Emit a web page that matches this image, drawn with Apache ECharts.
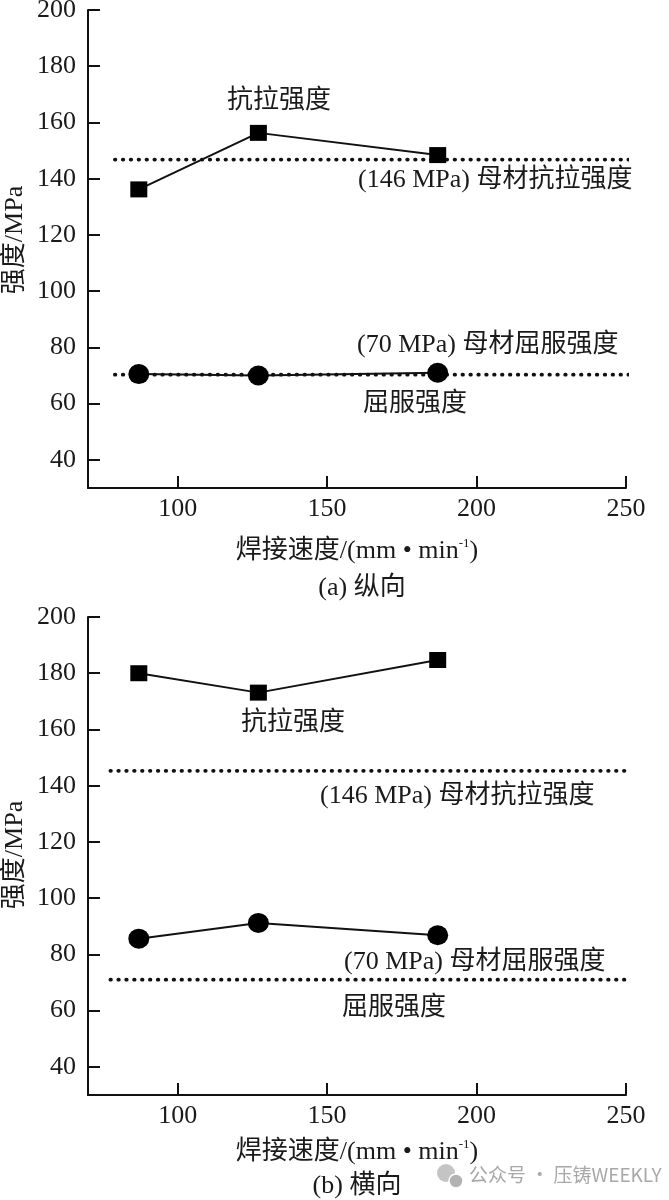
<!DOCTYPE html>
<html lang="zh">
<head>
    <meta charset="UTF-8">
    <title>焊接速度与强度</title>
    <script src="https://cdn.jsdelivr.net/npm/echarts@6/dist/echarts.min.js"></script>
    <style>
        html, body {
            width: 100%;
            height: 100%;
            margin: 0;
            padding: 0;
            background: #fff;
            overflow: hidden;
        }
        #chart {
            width: 669px;
            height: 1200px;
        }
    </style>
</head>
<body>
<div id="chart"></div>
<script>
    // Welding speed (mm/min) of the three samples
    var speeds = [87, 127, 187];

    // (a) longitudinal
    var tensileA = [136.2, 156.3, 148.4];
    var yieldA = [70.5, 70, 71];
    // (b) transverse
    var tensileB = [180, 173.1, 184.7];
    var yieldB = [85.6, 91.2, 86.8];

    // base metal reference lines and their x extent
    var baseTensile = [146.8, 145.3];
    var baseYield = [70.3, 71];
    var baseSpanA = [79, 256];
    var baseSpanB = [77.5, 260];

    var yTicks = [40, 60, 80, 100, 120, 140, 160, 180, 200];
    var xTicks = [100, 150, 200, 250];

    var serifFont = '"Liberation Serif", "Noto Sans CJK SC", serif';
    var textColor = '#1a1a1a';

    function zip(xs, ys) {
        return xs.map(function (x, i) { return [x, ys[i]]; });
    }
    function hline(span, y) {
        return [[span[0], y], [span[1], y]];
    }

    function makeX(gridIndex, gap) {
        return {
            type: 'value',
            gridIndex: gridIndex,
            min: 70,
            max: 250,
            name: '焊接速度/(mm • min{sup|-1})',
            nameLocation: 'middle',
            nameGap: gap,
            nameTextStyle: {
                fontFamily: serifFont,
                fontSize: 26,
                color: textColor,
                rich: {
                    sup: { fontSize: 13, fontFamily: serifFont, color: textColor, padding: [0, 0, 16, 0] }
                }
            },
            axisLine: { lineStyle: { color: '#111', width: 2 } },
            axisTick: { inside: true, length: 12, customValues: xTicks, lineStyle: { color: '#111', width: 2 } },
            axisLabel: { customValues: xTicks, margin: 8, fontFamily: serifFont, fontSize: 26, color: textColor },
            splitLine: { show: false }
        };
    }

    function makeY(gridIndex) {
        return {
            type: 'value',
            gridIndex: gridIndex,
            min: 30,
            max: 200,
            axisLine: { lineStyle: { color: '#111', width: 2 } },
            axisTick: { inside: true, length: 12, customValues: yTicks, lineStyle: { color: '#111', width: 2 } },
            axisLabel: { customValues: yTicks, margin: 12, fontFamily: serifFont, fontSize: 26, color: textColor },
            splitLine: { show: false }
        };
    }

    function dotted(idx, data) {
        return {
            type: 'line',
            xAxisIndex: idx,
            yAxisIndex: idx,
            data: data,
            symbol: 'none',
            clip: false,
            silent: true,
            z: 1,
            lineStyle: { color: '#111', width: 3.8, type: [0.5, 7.4], cap: 'round' }
        };
    }

    function marks(idx, data, symbol, size) {
        return {
            type: 'line',
            xAxisIndex: idx,
            yAxisIndex: idx,
            data: data,
            symbol: symbol,
            symbolSize: size,
            z: 3,
            lineStyle: { color: '#111', width: 2 },
            itemStyle: { color: '#000' }
        };
    }

    function label(text, x, y, extra) {
        var style = {
            text: text,
            x: x,
            y: y,
            fontFamily: serifFont,
            fontSize: 26,
            fill: textColor,
            align: 'left',
            verticalAlign: 'middle'
        };
        return { type: 'text', z: 10, style: Object.assign(style, extra || {}) };
    }

    // rotated y axis title
    function yName(y) {
        return {
            type: 'text',
            x: 15,
            y: y,
            rotation: Math.PI / 2,
            style: {
                text: '强度/MPa',
                fontFamily: serifFont,
                fontSize: 26,
                fill: textColor,
                align: 'center',
                verticalAlign: 'middle'
            }
        };
    }

    var chart = echarts.init(document.getElementById('chart'));

    var option = {
        backgroundColor: '#fff',
        animation: false,
        grid: [
            { left: 88, top: 10, width: 538, height: 478, outerBoundsMode: 'none' },
            { left: 88, top: 617, width: 538, height: 478, outerBoundsMode: 'none' }
        ],
        xAxis: [makeX(0, 49), makeX(1, 43)],
        yAxis: [makeY(0), makeY(1)],
        series: [
            dotted(0, hline(baseSpanA, baseTensile[0])),
            dotted(0, hline(baseSpanA, baseYield[0])),
            marks(0, zip(speeds, tensileA), 'rect', [17, 16]),
            marks(0, zip(speeds, yieldA), 'circle', [21, 20]),
            dotted(1, hline(baseSpanB, baseTensile[1])),
            dotted(1, hline(baseSpanB, baseYield[1])),
            marks(1, zip(speeds, tensileB), 'rect', [17, 16]),
            marks(1, zip(speeds, yieldB), 'circle', [21, 20])
        ],
        graphic: [
            yName(240),
            yName(855),
            // (a)
            label('抗拉强度', 227, 101),
            label('(146 MPa) 母材抗拉强度', 358, 180),
            label('(70 MPa) 母材屈服强度', 357, 345),
            label('屈服强度', 363, 404),
            label('(a) 纵向', 362, 588, { align: 'center' }),
            // (b)
            label('抗拉强度', 241, 723),
            label('(146 MPa) 母材抗拉强度', 320, 796),
            label('(70 MPa) 母材屈服强度', 342, 962, { backgroundColor: '#fff', padding: [4, 2, 0, 2] }),
            label('屈服强度', 342, 1008),
            label('(b) 横向', 357, 1186, { align: 'center' }),
            // watermark
            {
                type: 'group',
                z: 5,
                children: [
                    { type: 'circle', shape: { cx: 446, cy: 1173, r: 9 }, style: { fill: '#c4c4c4' } },
                    { type: 'circle', shape: { cx: 456, cy: 1181, r: 7 }, style: { fill: '#b2b2b2', stroke: '#fff', lineWidth: 1.5 } },
                    {
                        type: 'text',
                        style: {
                            text: '公众号 · 压铸WEEKLY',
                            x: 469,
                            y: 1175,
                            fontFamily: '"Noto Sans CJK SC", "Noto Sans", sans-serif',
                            fontSize: 19,
                            fill: '#a8a8a8',
                            align: 'left',
                            verticalAlign: 'middle'
                        }
                    }
                ]
            }
        ]
    };

    chart.setOption(option);
</script>
</body>
</html>
